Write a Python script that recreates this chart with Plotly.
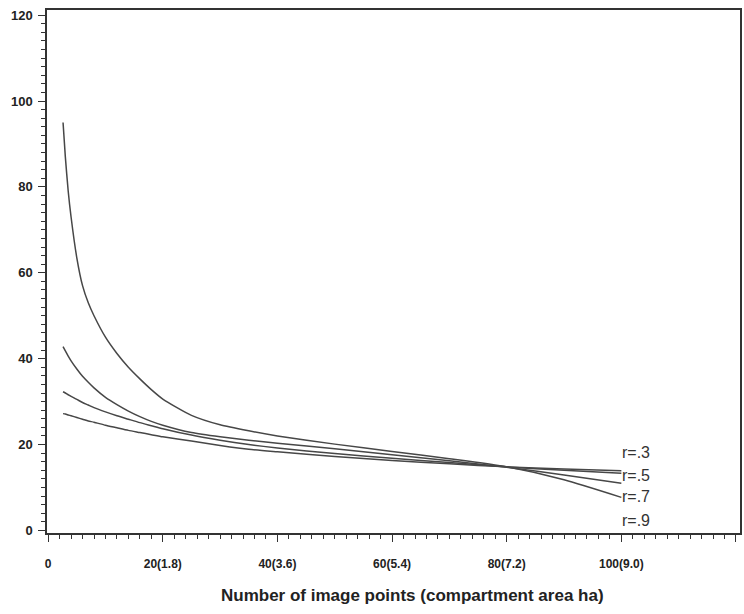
import plotly.graph_objects as go

# Data
x_points = [2.6, 3, 3.5, 4, 5, 6, 7, 8, 10, 12, 14, 16, 18, 20, 25, 30, 35, 40, 50, 60, 70, 80, 90, 100]
curve_a = [95, 87, 79, 73, 63.5, 57, 53, 50, 45, 41.2, 38, 35.3, 32.8, 30.6, 26.8, 24.6, 23.2, 22.0, 20.1, 18.4, 16.7, 14.8, 11.8, 7.7]
curve_b = [42.8, 41.8, 40.6, 39.5, 37.6, 35.9, 34.5, 33.2, 31.0, 29.3, 27.8, 26.5, 25.4, 24.5, 22.8, 21.8, 21.0, 20.3, 19.0, 17.6, 16.2, 14.7, 12.9, 11.0]
curve_c = [32.3, 32.0, 31.6, 31.2, 30.5, 29.8, 29.2, 28.6, 27.6, 26.7, 25.9, 25.1, 24.4, 23.7, 22.2, 21.0, 20.0, 19.2, 17.9, 16.8, 15.8, 14.8, 14.0, 13.3]
curve_d = [27.2, 27.1, 26.9, 26.7, 26.3, 25.9, 25.5, 25.2, 24.5, 23.9, 23.3, 22.8, 22.3, 21.8, 20.8, 19.8, 18.9, 18.3, 17.2, 16.3, 15.5, 14.8, 14.3, 13.9]

label_texts = ["r=.3", "r=.5", "r=.7", "r=.9"]
label_x = [99.8, 99.8, 99.8, 99.8]
label_y = [18.1, 12.9, 7.8, 2.2]

x_tickvals = [0, 20, 40, 60, 80, 100, 120]
x_ticktext = ["0", "20(1.8)", "40(3.6)", "60(5.4)", "80(7.2)", "100(9.0)", ""]
y_tickvals = [0, 20, 40, 60, 80, 100, 120]

x_title = "Number of image points (compartment area ha)"

line_color = "#474747"
fig = go.Figure()
for ys in [curve_a, curve_b, curve_c, curve_d]:
    fig.add_trace(go.Scatter(x=x_points, y=ys, mode="lines",
                             line=dict(color=line_color, width=1.5, shape="spline", smoothing=0.6),
                             showlegend=False, hoverinfo="skip"))

for t, lx, ly in zip(label_texts, label_x, label_y):
    fig.add_annotation(x=lx, y=ly, text=t, showarrow=False, xanchor="left", yanchor="middle",
                       font=dict(family="Liberation Sans, Arial, sans-serif", size=16, color="#333333"))

fig.add_annotation(xref="paper", yref="paper", x=0.527, y=-0.12, text="<b>" + x_title + "</b>",
                   showarrow=False, xanchor="center", yanchor="middle",
                   font=dict(family="Liberation Sans, Arial, sans-serif", size=17, color="#222222"))

axis_common = dict(showgrid=False, zeroline=False, showline=True, linecolor="#333333", linewidth=1.5,
                   mirror=True, ticks="outside", ticklen=7, tickwidth=1.2, tickcolor="#333333")

fig.update_xaxes(range=[-0.2, 120.7], tickmode="array", tickvals=x_tickvals, ticktext=x_ticktext,
                 tickfont=dict(family="Liberation Sans, Arial, sans-serif", size=12, color="#222222", weight="bold"),
                 ticklabelstandoff=12,
                 minor=dict(tickmode="linear", tick0=0, dtick=2, ticks="outside", ticklen=4, tickcolor="#333333", tickwidth=1),
                 **axis_common)
fig.update_yaxes(range=[-0.6, 121.2], tickmode="array", tickvals=y_tickvals,
                 tickfont=dict(family="Liberation Sans, Arial, sans-serif", size=13, color="#222222", weight="bold"),
                 ticklabelstandoff=3,
                 minor=dict(tickmode="linear", tick0=0, dtick=2, ticks="outside", ticklen=4, tickcolor="#333333", tickwidth=1),
                 **axis_common)

fig.update_layout(width=744, height=614, margin=dict(l=47, r=2, t=10, b=81),
                  plot_bgcolor="white", paper_bgcolor="white")

fig.write_html("out.html")
